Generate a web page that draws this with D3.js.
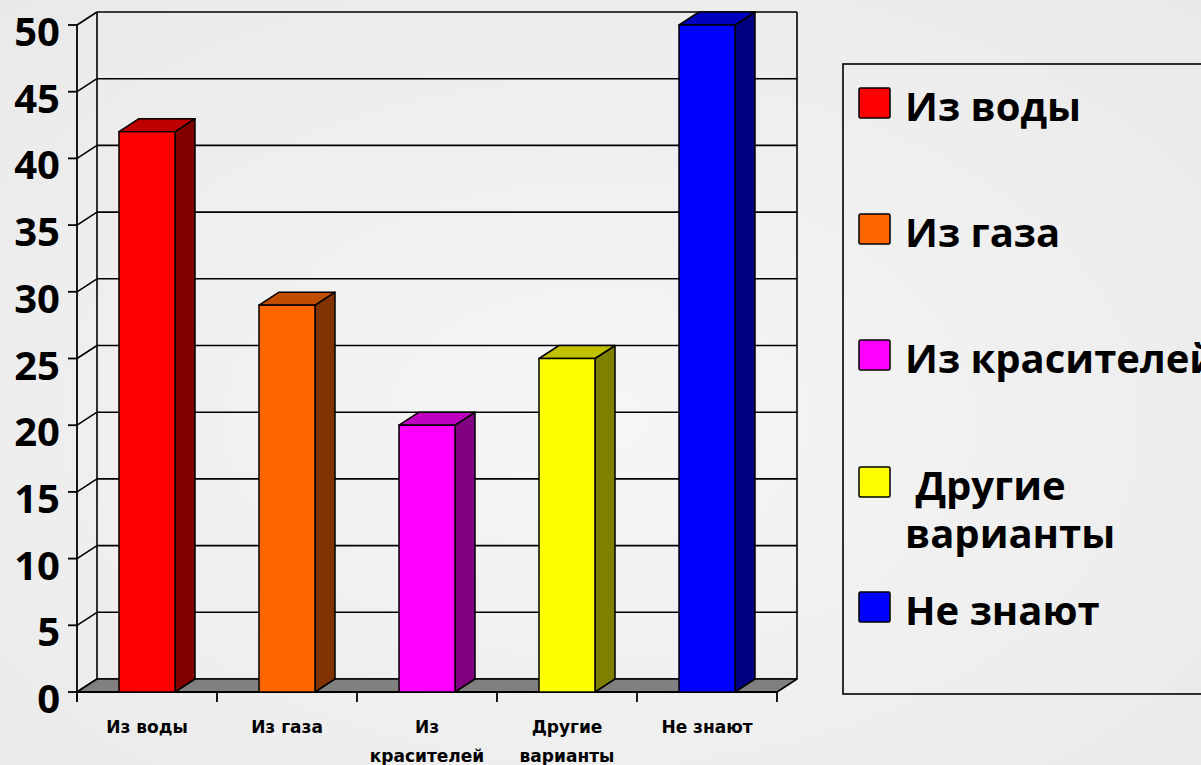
<!DOCTYPE html>
<html>
<head>
<meta charset="utf-8">
<script src="https://cdn.jsdelivr.net/npm/d3@7"></script>
<style>
  html, body { margin: 0; padding: 0; }
  body { width: 1201px; height: 765px; overflow: hidden; }
</style>
</head>
<body>
<svg id="chart" width="1201" height="765"></svg>
<script>
// Answers to the survey question
const categories = ["Из воды", "Из газа", "Из красителей", "Другие варианты", "Не знают"];
const axisLabels = [["Из воды"], ["Из газа"], ["Из", "красителей"], ["Другие", "варианты"], ["Не знают"]];
const legendLabels = [["Из воды"], ["Из газа"], ["Из красителей"], [" Другие", "варианты"], ["Не знают"]];
const values = [42, 29, 20, 25, 50];
const yTicks = [0, 5, 10, 15, 20, 25, 30, 35, 40, 45, 50];

// face colours: front, side, top
const frontColors = ["#ff0000", "#ff6600", "#ff00ff", "#ffff00", "#0000ff"];
const sideColors  = ["#800000", "#803300", "#800080", "#808000", "#000080"];
const topColors   = ["#c00000", "#c04d00", "#c000c0", "#c0c000", "#0000c0"];

const svg = d3.select("#chart");

// soft grey page background
const defs = svg.append("defs");
const bg = defs.append("radialGradient").attr("id", "bg")
  .attr("cx", "50%").attr("cy", "55%").attr("r", "75%");
bg.append("stop").attr("offset", "0%").attr("stop-color", "#f6f6f6");
bg.append("stop").attr("offset", "100%").attr("stop-color", "#e9e9e9");
svg.append("rect").attr("width", 1201).attr("height", 765).attr("fill", "url(#bg)");

// depth offset of the 3-D box
const dx = 20, dy = 13;

const x = d3.scaleBand().domain(categories).range([77, 777])
  .paddingInner(0.6).paddingOuter(0.3);
const y = d3.scaleLinear().domain([0, 50]).range([692, 25]);
const x0 = 77, x1 = 777;

const g = svg.append("g");

// back wall gridlines and side-wall connectors
yTicks.forEach(t => {
  g.append("line").attr("x1", x0 + dx).attr("x2", x1 + dx)
    .attr("y1", y(t) - dy).attr("y2", y(t) - dy)
    .attr("stroke", "#000").attr("stroke-width", 1.6);
  g.append("line").attr("x1", x0).attr("x2", x0 + dx)
    .attr("y1", y(t)).attr("y2", y(t) - dy)
    .attr("stroke", "#000").attr("stroke-width", 1.6);
});
// back wall edges
[x0 + dx, x1 + dx].forEach(xx => {
  g.append("line").attr("x1", xx).attr("x2", xx)
    .attr("y1", y(0) - dy).attr("y2", y(50) - dy)
    .attr("stroke", "#000").attr("stroke-width", 1.6);
});

// floor
g.append("path")
  .attr("d", d3.line()([[x0, y(0)], [x1, y(0)], [x1 + dx, y(0) - dy], [x0 + dx, y(0) - dy]]) + "Z")
  .attr("fill", "#808080").attr("stroke", "#000").attr("stroke-width", 1.6)
  .attr("stroke-linejoin", "round");

// value axis line with ticks
g.append("line").attr("x1", x0).attr("x2", x0).attr("y1", y(50)).attr("y2", y(0) + 10)
  .attr("stroke", "#000").attr("stroke-width", 1.8);
yTicks.forEach(t => {
  g.append("line").attr("x1", x0 - 9).attr("x2", x0).attr("y1", y(t)).attr("y2", y(t))
    .attr("stroke", "#000").attr("stroke-width", 1.8);
  g.append("text").attr("x", 60).attr("y", y(t) + 21)
    .attr("text-anchor", "end")
    .attr("font-family", "'Open Sans', sans-serif").attr("font-weight", 700)
    .attr("font-size", 40).attr("fill", "#000").text(t);
});

// category axis line with ticks between categories
g.append("line").attr("x1", x0).attr("x2", x1).attr("y1", y(0)).attr("y2", y(0))
  .attr("stroke", "#000").attr("stroke-width", 1.8);
d3.range(categories.length + 1).forEach(i => {
  const xx = x0 + i * x.step();
  g.append("line").attr("x1", xx).attr("x2", xx).attr("y1", y(0)).attr("y2", y(0) + 10)
    .attr("stroke", "#000").attr("stroke-width", 1.8);
});

// bars as 3-D boxes
const bars = g.selectAll("g.bar").data(values).join("g").attr("class", "bar");
bars.each(function(v, i) {
  const b = d3.select(this);
  const bx = x(categories[i]), bw = x.bandwidth();
  const top = y(v), base = y(0);
  const line = d3.line();
  b.append("path")
    .attr("d", line([[bx + bw, base], [bx + bw + dx, base - dy], [bx + bw + dx, top - dy], [bx + bw, top]]) + "Z")
    .attr("fill", sideColors[i]).attr("stroke", "#000").attr("stroke-width", 1.5).attr("stroke-linejoin", "round");
  b.append("path")
    .attr("d", line([[bx, top], [bx + dx, top - dy], [bx + bw + dx, top - dy], [bx + bw, top]]) + "Z")
    .attr("fill", topColors[i]).attr("stroke", "#000").attr("stroke-width", 1.5).attr("stroke-linejoin", "round");
  b.append("rect").attr("x", bx).attr("y", top).attr("width", bw).attr("height", base - top)
    .attr("fill", frontColors[i]).attr("stroke", "#000").attr("stroke-width", 1.5);
});

// category labels
axisLabels.forEach((lines, i) => {
  const cx = x(categories[i]) + x.bandwidth() / 2;
  const t = g.append("text").attr("text-anchor", "middle")
    .attr("font-family", "'DejaVu Sans', Verdana, sans-serif").attr("font-weight", 700)
    .attr("font-size", 17).attr("fill", "#000");
  lines.forEach((s, k) => {
    t.append("tspan").attr("x", cx).attr("y", 733 + k * 29).text(s);
  });
});

// legend
const lg = svg.append("g");
lg.append("rect").attr("x", 843).attr("y", 64).attr("width", 400).attr("height", 630)
  .attr("fill", "none").attr("stroke", "#000").attr("stroke-width", 1.6);
const legendTop = [88, 214, 340, 467, 592];
legendLabels.forEach((lines, i) => {
  lg.append("rect").attr("x", 859).attr("y", legendTop[i]).attr("width", 31).attr("height", 30)
    .attr("rx", 1.5)
    .attr("fill", frontColors[i]).attr("stroke", "#000").attr("stroke-width", 1.5);
  const t = lg.append("text")
    .attr("font-family", "'Open Sans', sans-serif").attr("font-weight", 700)
    .attr("font-size", 40).attr("fill", "#000").attr("xml:space", "preserve");
  lines.forEach((s, k) => {
    t.append("tspan").attr("x", 905).attr("y", legendTop[i] + 33 + k * 48).text(s);
  });
});
</script>
</body>
</html>
